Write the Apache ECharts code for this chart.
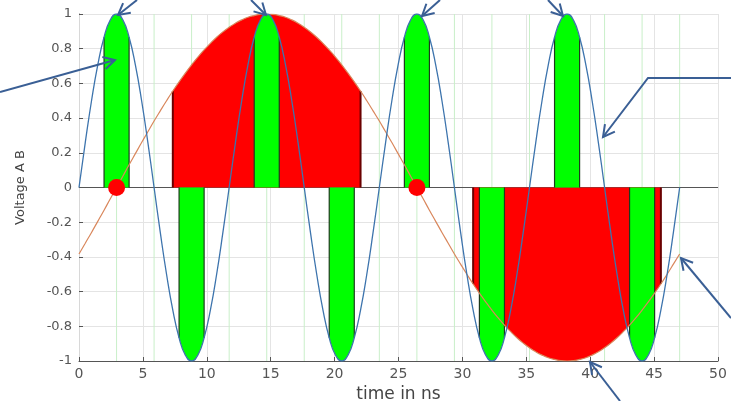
<!DOCTYPE html>
<html>
<head>
<meta charset="utf-8">
<script src="https://cdn.jsdelivr.net/npm/echarts@6/dist/echarts.min.js"></script>
<style>
html,body{margin:0;padding:0;background:#fff;}
#c{width:731px;height:401px;}
</style>
</head>
<body>
<div id="c"></div>
<script>
// ---- data ----
const timeNs = [0,0.49,0.98,1.47,1.96,2.45,2.94,3.43,3.92,4.41,4.90,5.39,5.875,6.36,6.85,7.34,7.83,8.32,8.81,9.30,9.79,10.28,10.77,11.26,11.75,
12.24,12.73,13.22,13.71,14.20,14.69,15.18,15.67,16.16,16.65,17.14,17.625,18.11,18.60,19.09,19.58,20.07,20.56,21.05,21.54,22.03,22.52,23.01,23.5,
23.99,24.48,24.97,25.46,25.95,26.44,26.93,27.42,27.91,28.40,28.89,29.375,29.86,30.35,30.84,31.33,31.82,32.31,32.80,33.29,33.78,34.27,34.76,35.25,
35.74,36.23,36.72,37.21,37.70,38.19,38.68,39.17,39.66,40.15,40.64,41.125,41.61,42.10,42.59,43.08,43.57,44.06,44.55,45.04,45.53,46.02,46.51,47];
const voltageA = [0,0.259,0.5,0.707,0.866,0.966,1,0.966,0.866,0.707,0.5,0.259,0,-0.259,-0.5,-0.707,-0.866,-0.966,-1,-0.966,-0.866,-0.707,-0.5,-0.259,
0,0.259,0.5,0.707,0.866,0.966,1,0.966,0.866,0.707,0.5,0.259,0,-0.259,-0.5,-0.707,-0.866,-0.966,-1,-0.966,-0.866,-0.707,-0.5,-0.259,
0,0.259,0.5,0.707,0.866,0.966,1,0.966,0.866,0.707,0.5,0.259,0,-0.259,-0.5,-0.707,-0.866,-0.966,-1,-0.966,-0.866,-0.707,-0.5,-0.259,
0,0.259,0.5,0.707,0.866,0.966,1,0.966,0.866,0.707,0.5,0.259,0,-0.259,-0.5,-0.707,-0.866,-0.966,-1,-0.966,-0.866,-0.707,-0.5,-0.259,0];
const voltageB = [-0.383,-0.321,-0.259,-0.195,-0.131,-0.065,0,0.065,0.131,0.195,0.259,0.321,0.383,0.442,0.5,0.556,0.609,0.659,0.707,0.752,0.793,0.831,0.866,0.897,0.924,
0.947,0.966,0.981,0.991,0.998,1,0.998,0.991,0.981,0.966,0.947,0.924,0.897,0.866,0.831,0.793,0.752,0.707,0.659,0.609,0.556,0.5,0.442,0.383,0.321,0.259,0.195,0.131,0.065,0,
-0.065,-0.131,-0.195,-0.259,-0.321,-0.383,-0.442,-0.5,-0.556,-0.609,-0.659,-0.707,-0.752,-0.793,-0.831,-0.866,-0.897,-0.924,-0.947,-0.966,-0.981,-0.991,-0.998,-1,
-0.998,-0.991,-0.981,-0.966,-0.947,-0.924,-0.897,-0.866,-0.831,-0.793,-0.752,-0.707,-0.659,-0.609,-0.556,-0.5,-0.442,-0.383];
// green bars: index ranges into timeNs/voltageA
const greenBars = [[4,8],[16,20],[28,32],[40,44],[52,56],[64,68],[76,80],[88,92]];
// red areas: index ranges into timeNs/voltageB
const redAreas = [[15,45],[63,93]];
const redDots = [[2.94,0],[26.44,0]];
const guideX = [2.94,5.875,8.81,11.75,14.69,17.625,20.56,23.5,26.44,29.375,32.31,35.25,38.19,41.125,44.06,47];

const chart = echarts.init(document.getElementById('c'), null, {renderer:'canvas'});

function regionPath(api, xs, ys, s, e) {
  const P = [];
  for (let i = s - 1; i <= e + 1; i++) {
    const j = Math.max(0, Math.min(xs.length - 1, i));
    P.push(api.coord([xs[j], ys[j]]));
  }
  const b0 = api.coord([xs[s], 0]);
  const b1 = api.coord([xs[e], 0]);
  let d = 'M' + b0[0] + ' ' + b0[1] + ' L' + P[1][0] + ' ' + P[1][1];
  for (let i = 1; i < P.length - 2; i++) {
    const p0 = P[i - 1], p1 = P[i], p2 = P[i + 1], p3 = P[i + 2];
    const c1 = [p1[0] + (p2[0] - p0[0]) / 6, p1[1] + (p2[1] - p0[1]) / 6];
    const c2 = [p2[0] - (p3[0] - p1[0]) / 6, p2[1] - (p3[1] - p1[1]) / 6];
    d += ' C' + c1[0] + ' ' + c1[1] + ' ' + c2[0] + ' ' + c2[1] + ' ' + p2[0] + ' ' + p2[1];
  }
  d += ' L' + b1[0] + ' ' + b1[1] + ' Z';
  return {d: d, top0: P[1], top1: P[P.length - 2], b0: b0, b1: b1};
}

function regionSeries(name, ranges, xs, ys, fill, edge, edgeW, z) {
  return {
    type: 'custom', name: name, z: z, silent: true,
    data: ranges.map(r => [xs[r[0]], 0, r[0], r[1]]),
    encode: {x: 0, y: 1},
    renderItem: function (params, api) {
      const r = regionPath(api, xs, ys, api.value(2), api.value(3));
      return {
        type: 'group',
        children: [
          {type: 'path', shape: {pathData: r.d}, style: {fill: fill, stroke: null}},
          {type: 'line', shape: {x1: r.b0[0], y1: r.b0[1], x2: r.top0[0], y2: r.top0[1]}, style: {stroke: edge, lineWidth: edgeW}},
          {type: 'line', shape: {x1: r.b1[0], y1: r.b1[1], x2: r.top1[0], y2: r.top1[1]}, style: {stroke: edge, lineWidth: edgeW}}
        ]
      };
    }
  };
}

const blueData = timeNs.map((t, i) => [t, voltageA[i]]);
const orangeData = timeNs.map((t, i) => [t, voltageB[i]]);

// arrows (annotation overlay, pixels)
const arrowColor = '#3a5f95';
const arrows = [
  [[0,92],[115,60]],
  [[137,0],[118,15]],
  [[251,0],[266,15]],
  [[440,0],[422,16]],
  [[548,0],[563,16]],
  [[731,78],[648,78],[603,137]],
  [[731,318],[681,258]],
  [[620,401],[590,362]]
];
const graphics = [];
arrows.forEach(a => {
  graphics.push({type:'polyline', silent:true, z:100, shape:{points:a}, style:{stroke:arrowColor, lineWidth:2, fill:null}});
  const tip = a[a.length-1], prev = a[a.length-2];
  const ang = Math.atan2(prev[1]-tip[1], prev[0]-tip[0]);
  const L = 13, sp = 0.5;
  const p1 = [tip[0] + L*Math.cos(ang+sp), tip[1] + L*Math.sin(ang+sp)];
  const p2 = [tip[0] + L*Math.cos(ang-sp), tip[1] + L*Math.sin(ang-sp)];
  graphics.push({type:'polyline', silent:true, z:100, shape:{points:[p1, tip, p2]}, style:{stroke:arrowColor, lineWidth:2, fill:null}});
});

const font = 'DejaVu Sans, Liberation Sans, sans-serif';

chart.setOption({
  animation: false,
  backgroundColor: '#fff',
  grid: {left: 79, right: 13, top: 14, bottom: 40, show: false, containLabel: false, outerBoundsMode: 'none'},
  xAxis: [{
    type: 'value', min: 0, max: 50, interval: 5,
    name: 'time in ns', nameLocation: 'middle', nameGap: 24,
    nameTextStyle: {color: '#444', fontSize: 17, fontFamily: font},
    axisLine: {show: true, onZero: false, lineStyle: {color: '#555', width: 1}},
    axisTick: {show: true, inside: true, length: 4, lineStyle: {color: '#555'}},
    axisLabel: {color: '#555', fontSize: 14, fontFamily: font, margin: 6},
    splitLine: {show: true, lineStyle: {color: '#e4e4e4', width: 1}}
  }, {
    type: 'value', min: 0, max: 50, position: 'top',
    axisLine: {show: true, lineStyle: {color: '#d8d8d8'}}, axisTick: {show: false}, axisLabel: {show: false}, splitLine: {show: false}
  }],
  yAxis: [{
    type: 'value', min: -1, max: 1, interval: 0.2,
    name: 'Voltage A B', nameLocation: 'middle', nameGap: 52,
    nameTextStyle: {color: '#444', fontSize: 13, fontFamily: font},
    axisLine: {show: true, onZero: false, lineStyle: {color: '#555', width: 1}},
    axisTick: {show: true, inside: true, length: 4, lineStyle: {color: '#555'}},
    axisLabel: {color: '#555', fontSize: 13, fontFamily: font, margin: 7,
      formatter: v => (Math.abs(v) < 1e-9 ? '0' : String(Math.round(v * 10) / 10))},
    splitLine: {show: true, lineStyle: {color: '#e4e4e4', width: 1}}
  }, {
    type: 'value', min: -1, max: 1, position: 'right',
    axisLine: {show: true, lineStyle: {color: '#d8d8d8'}}, axisTick: {show: false}, axisLabel: {show: false}, splitLine: {show: false}
  }],
  series: [
    {
      type: 'custom', name: 'guides', z: 1, silent: true,
      data: guideX.map(x => [x, 0]),
      encode: {x: 0, y: 1},
      renderItem: function (params, api) {
        const a = api.coord([api.value(0), -1]);
        const b = api.coord([api.value(0), 1]);
        return {type: 'line', shape: {x1: a[0], y1: a[1], x2: b[0], y2: b[1]}, style: {stroke: '#c9efc9', lineWidth: 1}};
      }
    },
    {
      type: 'custom', name: 'zero', z: 2, silent: true,
      data: [[0, 0]],
      encode: {x: 0, y: 1},
      renderItem: function (params, api) {
        const a = api.coord([0, 0]);
        const b = api.coord([50, 0]);
        return {type: 'line', shape: {x1: a[0], y1: a[1], x2: b[0], y2: b[1]}, style: {stroke: '#555', lineWidth: 1.2}};
      }
    },
    regionSeries('redArea', redAreas, timeNs, voltageB, '#ff0000', '#6a0000', 2, 3),
    regionSeries('greenBars', greenBars, timeNs, voltageA, '#00ff00', '#1d3b1d', 1.2, 4),
    {
      type: 'line', name: 'B', data: orangeData, z: 5, smooth: 0.5, symbol: 'none',
      lineStyle: {color: '#d9875c', width: 1.2}
    },
    {
      type: 'line', name: 'A', data: blueData, z: 6, smooth: 0.5, symbol: 'none',
      lineStyle: {color: '#3d74ad', width: 1.3}
    },
    {
      type: 'scatter', name: 'dots', data: redDots, z: 7, symbolSize: 17,
      itemStyle: {color: '#ff0000', opacity: 1}
    }
  ],
  graphic: graphics
});
</script>
</body>
</html>
